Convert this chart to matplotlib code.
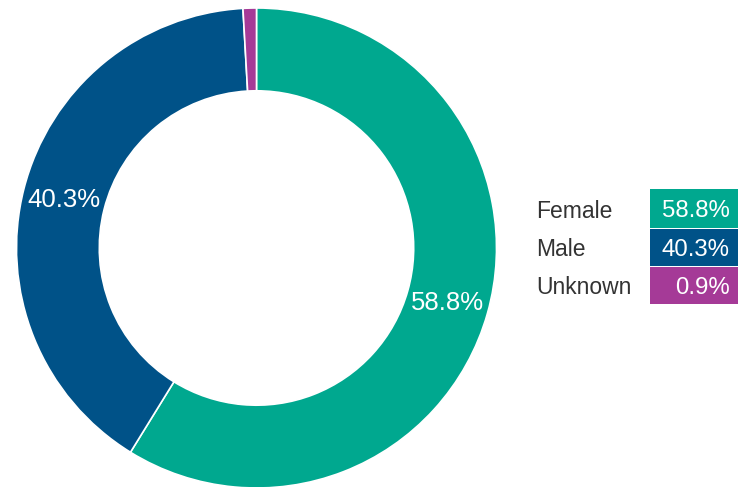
import matplotlib
matplotlib.use("AGG")
import matplotlib.pyplot as plt
import matplotlib.patches as mpatches
import numpy as np

plt.rcParams['font.family'] = ['Liberation Sans', 'DejaVu Sans']

categories = ['Female', 'Male', 'Unknown']
shares = [58.8, 40.3, 0.9]
share_labels = ['58.8%', '40.3%', '0.9%']
colors = ['#00A88F', '#005288', '#A53A97']

W, H = 738, 487
fig = plt.figure(figsize=(W / 100, H / 100), dpi=100)

# donut: centre (256.5, 248) px, outer radius 240 px
cx, cy, r = 256.5, 248.0, 240.0
ax = fig.add_axes([(cx - r) / W, (H - cy - r) / H, 2 * r / W, 2 * r / H])
wedges, _ = ax.pie(shares, colors=colors, startangle=90, counterclock=False,
                   radius=1.0, wedgeprops=dict(width=0.345, edgecolor='white', linewidth=1.2))
ax.set_xlim(-1, 1)
ax.set_ylim(-1, 1)
ax.set_aspect('equal')
ax.axis('off')

# labels inside the two big rings
for w, s, lab in zip(wedges, shares, share_labels):
    mid = np.deg2rad((w.theta1 + w.theta2) / 2)
    if s > 5:
        ax.text(0.827 * np.cos(mid), 0.827 * np.sin(mid) - 0.005, lab, color='white',
                fontsize=18.5, ha='center', va='center')

# legend with coloured value boxes
box_tops = [189, 229, 267]
box_bots = [228, 266, 304]
for i, (cat, lab, col) in enumerate(zip(categories, share_labels, colors)):
    top, bot = box_tops[i], box_bots[i]
    fig.patches.append(mpatches.Rectangle((650 / W, 1 - bot / H), (W - 650) / W, (bot - top) / H,
                                          transform=fig.transFigure, fc=col, ec='none'))
    yc = 1 - ((top + bot) / 2 + 2.5) / H
    fig.text(730 / W, yc, lab, color='white', fontsize=17.3, ha='right', va='center')
    fig.text(536 / W, yc, cat, color='#333333', fontsize=16.5, ha='left', va='center')

fig.savefig('out.png', dpi=100)
